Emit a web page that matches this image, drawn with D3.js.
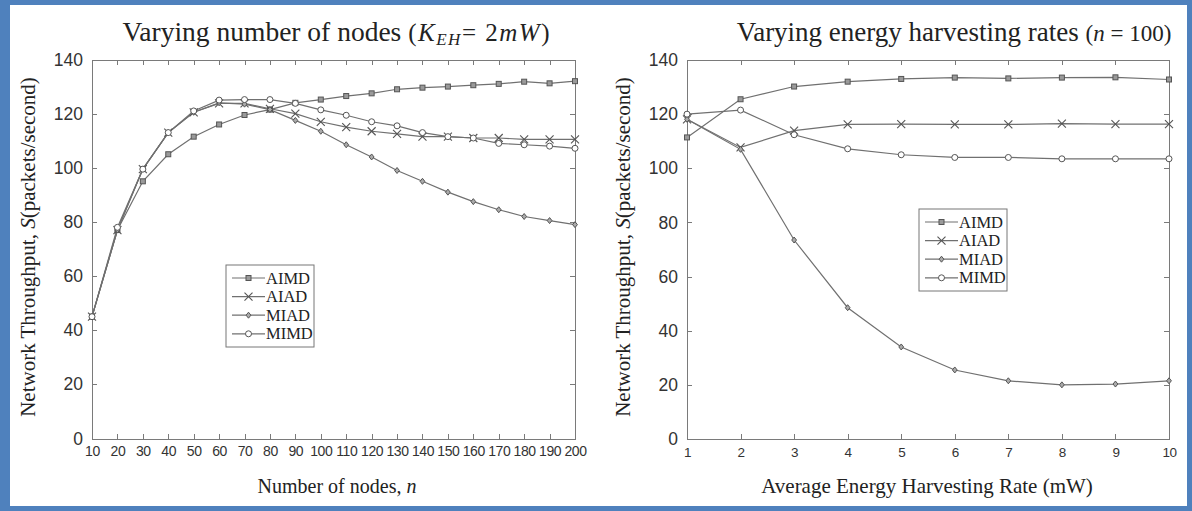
<!DOCTYPE html>
<html>
<head>
<meta charset="utf-8">
<script src="https://cdn.jsdelivr.net/npm/d3@7"></script>
<style>
  html, body { margin: 0; padding: 0; background: #fff; }
  svg { display: block; }
</style>
</head>
<body>
<svg id="chart" width="1192" height="511"></svg>
<script>
// ---------- DATA ----------
const seriesNames = ["AIMD", "AIAD", "MIAD", "MIMD"];

// Left panel: varying number of nodes
const nodes = [10,20,30,40,50,60,70,80,90,100,110,120,130,140,150,160,170,180,190,200];
const leftAIMD = [45,77,95,105,111.5,116,119.5,121.5,124,125.2,126.5,127.5,129,129.6,130,130.5,131,131.8,131.2,132];
const leftAIAD = [45,77,99.5,113,120.5,123.8,123.8,121.8,120,117,115,113.5,112.5,111.5,111.5,111,111,110.5,110.5,110.5];
const leftMIAD = [45,77,99.5,113,120.5,124,123.5,121.5,117.5,113.5,108.5,104,99,95,91,87.5,84.5,82,80.5,79];
const leftMIMD = [45,78,99.5,113,121,125,125.2,125.2,123.8,121.4,119.4,117,115.5,113,111.5,111,109,108.5,108,107.2];

// Right panel: varying energy harvesting rates
const rates = [1,2,3,4,5,6,7,8,9,10];
const rightAIMD = [111.4,125.5,130.2,132,133,133.5,133.2,133.5,133.6,132.8];
const rightAIAD = [118.1,107.7,113.9,116.2,116.3,116.2,116.2,116.5,116.3,116.3];
const rightMIAD = [118.1,107,73.5,48.5,34,25.5,21.5,20,20.3,21.5];
const rightMIMD = [120,121.5,112.4,107.2,105,104,104,103.5,103.5,103.5];

const yTicks = [0,20,40,60,80,100,120,140];
const leftXTicks = nodes;
const rightXTicks = rates;

// ---------- DRAW ----------
const svg = d3.select("#chart");
const W = 1192, H = 511;
const serif = "'Liberation Serif','Times New Roman',serif";
const sans = "'Liberation Sans',Arial,Helvetica,sans-serif";
const lineColor = "#707070";
const axisColor = "#7a7a7a";

// frame
svg.append("rect").attr("x",0).attr("y",0).attr("width",W).attr("height",H).attr("fill","#4f81bd");
svg.append("rect").attr("x",10).attr("y",5).attr("width",W-15).attr("height",H-10).attr("fill","#fff");

const markerTypes = {
  AIMD: "square", AIAD: "cross", MIAD: "diamond", MIMD: "circle"
};

function drawMarker(g, type, cx, cy) {
  if (type === "square") {
    g.append("rect").attr("x",cx-2.5).attr("y",cy-2.5).attr("width",5).attr("height",5)
      .attr("fill","#9a9a9a").attr("stroke","#555").attr("stroke-width",1);
  } else if (type === "cross") {
    g.append("path").attr("d",`M${cx-4},${cy-4}L${cx+4},${cy+4}M${cx-4},${cy+4}L${cx+4},${cy-4}`)
      .attr("stroke","#555").attr("stroke-width",1.1).attr("fill","none");
  } else if (type === "diamond") {
    g.append("path").attr("d",`M${cx},${cy-3}L${cx+2.4},${cy}L${cx},${cy+3}L${cx-2.4},${cy}Z`)
      .attr("fill","#aaa").attr("stroke","#555").attr("stroke-width",1);
  } else {
    g.append("circle").attr("cx",cx).attr("cy",cy).attr("r",3)
      .attr("fill","#fff").attr("stroke","#555").attr("stroke-width",1);
  }
}

function panel(opts) {
  const {x0,x1,y0,y1,xDomain,xs,series,xTicks,legend,xFont} = opts;
  const x = d3.scaleLinear().domain(xDomain).range([x0,x1]);
  const y = d3.scaleLinear().domain([0,140]).range([y1,y0]);
  const g = svg.append("g");

  const tickLen = 5;
  g.append("g").attr("transform",`translate(0,${y1})`)
    .call(d3.axisBottom(x).tickValues(xTicks).tickSizeInner(-tickLen).tickSizeOuter(0).tickPadding(8))
    .call(a => { a.select(".domain").attr("stroke",axisColor);
      a.selectAll(".tick line").attr("stroke",axisColor);
      a.selectAll("text").attr("font-family",sans).attr("font-size",xFont).attr("fill","#333")
        .attr("letter-spacing",-0.4); });

  g.append("g").attr("transform",`translate(0,${y0})`)
    .call(d3.axisTop(x).tickValues(xTicks).tickSizeInner(-tickLen).tickSizeOuter(0).tickFormat(""))
    .call(a => { a.select(".domain").attr("stroke",axisColor); a.selectAll(".tick line").attr("stroke",axisColor); });

  g.append("g").attr("transform",`translate(${x0},0)`)
    .call(d3.axisLeft(y).tickValues(yTicks).tickSizeInner(-tickLen).tickSizeOuter(0).tickPadding(9))
    .call(a => { a.select(".domain").attr("stroke",axisColor);
      a.selectAll(".tick line").attr("stroke",axisColor);
      a.selectAll("text").attr("font-family",sans).attr("font-size",17.5).attr("fill","#333"); });

  g.append("g").attr("transform",`translate(${x1},0)`)
    .call(d3.axisRight(y).tickValues(yTicks).tickSizeInner(-tickLen).tickSizeOuter(0).tickFormat(""))
    .call(a => { a.select(".domain").attr("stroke",axisColor); a.selectAll(".tick line").attr("stroke",axisColor); });

  g.selectAll(".tick line").attr("shape-rendering","crispEdges");
  g.selectAll(".domain").attr("shape-rendering","crispEdges");

  const line = d3.line().x(d => x(d[0])).y(d => y(d[1]));
  seriesNames.forEach((name,i) => {
    const data = xs.map((v,j) => [v, series[i][j]]);
    g.append("path").datum(data).attr("d",line).attr("fill","none")
      .attr("stroke",lineColor).attr("stroke-width",1.2);
  });
  seriesNames.forEach((name,i) => {
    const mg = g.append("g");
    xs.forEach((v,j) => drawMarker(mg, markerTypes[name], x(v), y(series[i][j])));
  });

  const lg = g.append("g");
  lg.append("rect").attr("x",legend.x).attr("y",legend.y).attr("width",88).attr("height",82)
    .attr("fill","#fff").attr("stroke","#777").attr("stroke-width",1);
  seriesNames.forEach((name,i) => {
    const ly = legend.y + 13 + i*18.6;
    lg.append("line").attr("x1",legend.x+6).attr("x2",legend.x+39).attr("y1",ly).attr("y2",ly)
      .attr("stroke",lineColor).attr("stroke-width",1.2);
    drawMarker(lg, markerTypes[name], legend.x+22.5, ly);
    lg.append("text").attr("x",legend.x+40).attr("y",ly+5.5).text(name)
      .attr("font-family",serif).attr("font-size",16.5).attr("fill","#222");
  });
  return {x,y};
}

panel({x0:92, x1:575, y0:59.5, y1:438.5, xDomain:[10,200], xs:nodes,
  series:[leftAIMD,leftAIAD,leftMIAD,leftMIMD], xTicks:leftXTicks, legend:{x:226,y:265}, xFont:14});
panel({x0:687, x1:1169, y0:60, y1:439, xDomain:[1,10], xs:rates,
  series:[rightAIMD,rightAIAD,rightMIAD,rightMIMD], xTicks:rightXTicks, legend:{x:919,y:209}, xFont:13.5});

function yTitle(cx) {
  const t = svg.append("text").attr("transform",`translate(${cx},247) rotate(-90)`)
    .attr("text-anchor","middle").attr("font-family",serif).attr("font-size",21).attr("fill","#222");
  t.append("tspan").text("Network Throughput, ");
  t.append("tspan").attr("font-style","italic").text("S");
  t.append("tspan").text("(packets/second)");
}
yTitle(35);
yTitle(630);

const xt1 = svg.append("text").attr("x",337).attr("y",493).attr("text-anchor","middle")
  .attr("font-family",serif).attr("font-size",20).attr("fill","#222");
xt1.append("tspan").text("Number of nodes, ");
xt1.append("tspan").attr("font-style","italic").text("n");

svg.append("text").attr("x",927).attr("y",493).attr("text-anchor","middle")
  .attr("font-family",serif).attr("font-size",21).attr("fill","#222")
  .text("Average Energy Harvesting Rate (mW)");

const t1 = svg.append("text").attr("x",336).attr("y",41).attr("text-anchor","middle")
  .attr("font-family",serif).attr("font-size",27.5).attr("fill","#222");
t1.append("tspan").text("Varying number of nodes ");
t1.append("tspan").attr("font-size",25).attr("letter-spacing",1.5).text("(");
t1.append("tspan").attr("font-size",25).attr("font-style","italic").attr("letter-spacing",1.5).text("K");
t1.append("tspan").attr("font-size",17).attr("font-style","italic").attr("dy",4).attr("letter-spacing",1.5).text("EH");
t1.append("tspan").attr("font-size",25).attr("dy",-4).attr("letter-spacing",1.5).text("= 2");
t1.append("tspan").attr("font-size",25).attr("font-style","italic").attr("letter-spacing",1.5).text("mW");
t1.append("tspan").attr("font-size",25).text(")");

const t2 = svg.append("text").attr("x",954).attr("y",41).attr("text-anchor","middle")
  .attr("font-family",serif).attr("font-size",27).attr("fill","#222");
t2.append("tspan").text("Varying energy harvesting rates ");
t2.append("tspan").attr("font-size",23).text("(");
t2.append("tspan").attr("font-size",23).attr("font-style","italic").text("n");
t2.append("tspan").attr("font-size",23).text(" = 100)");
</script>
</body>
</html>
